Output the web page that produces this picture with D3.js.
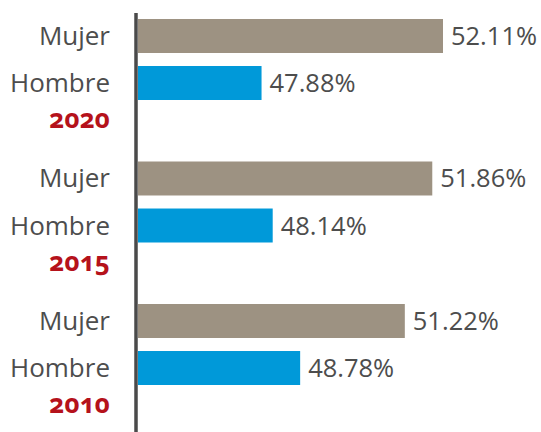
<!DOCTYPE html>
<html><head><meta charset="utf-8">
<script src="https://cdn.jsdelivr.net/npm/d3@7"></script>
<style>body{margin:0;background:#fff}svg{display:block}</style>
</head><body>
<svg id="c" width="541" height="432"></svg>
<script>
const years = ["2020", "2015", "2010"];
const groups = ["Mujer", "Hombre"];
const mujer = [52.11, 51.86, 51.22];
const hombre = [47.88, 48.14, 48.78];
const colors = {Mujer: "#9d9282", Hombre: "#0099d9"};

const svg = d3.select("#c");
const font = "'Open Sans', sans-serif";
const x = d3.scaleLinear().domain([45, 52.11]).range([138, 443]);
const y0 = d3.scaleBand().domain(years).range([19, 19 + 3 * 142.5]).paddingInner(0);
const y1 = d3.scaleBand().domain(groups).range([0, 81]).paddingInner(0.277).paddingOuter(0);

const data = [];
years.forEach((yr, i) => {
  data.push({year: yr, g: "Mujer", v: mujer[i]});
  data.push({year: yr, g: "Hombre", v: hombre[i]});
});

svg.selectAll("rect.bar").data(data).enter().append("rect")
  .attr("class", "bar")
  .attr("x", x(45))
  .attr("y", d => y0(d.year) + y1(d.g))
  .attr("width", d => x(d.v) - x(45))
  .attr("height", y1.bandwidth())
  .attr("fill", d => colors[d.g]);

svg.selectAll("text.val").data(data).enter().append("text")
  .attr("class", "val")
  .attr("x", d => x(d.v) + 8)
  .attr("y", d => y0(d.year) + y1(d.g) + y1.bandwidth() / 2 + 9)
  .attr("font-family", font).attr("font-size", 26).attr("fill", "#4d4d4d")
  .attr("textLength", 86).attr("lengthAdjust", "spacingAndGlyphs")
  .text(d => d.v.toFixed(2) + "%");

svg.selectAll("text.cat").data(data).enter().append("text")
  .attr("class", "cat")
  .attr("x", 110).attr("text-anchor", "end")
  .attr("y", d => y0(d.year) + y1(d.g) + y1.bandwidth() / 2 + 9)
  .attr("font-family", font).attr("font-size", 26).attr("fill", "#4d4d4d")
  .text(d => d.g);

svg.selectAll("text.yr").data(years).enter().append("text")
  .attr("class", "yr")
  .attr("x", 110).attr("text-anchor", "end")
  .attr("y", d => y0(d) + 109)
  .attr("font-family", "'Noto Sans', sans-serif").attr("font-size", 26).attr("font-weight", "bold")
  .style("font-variant-numeric", "oldstyle-nums")
  .attr("fill", "#b5121b")
  .text(d => d);

svg.append("line")
  .attr("x1", 136).attr("x2", 136).attr("y1", 13).attr("y2", 432)
  .attr("stroke", "#4a4a4a").attr("stroke-width", 3.5);
</script>
</body></html>
